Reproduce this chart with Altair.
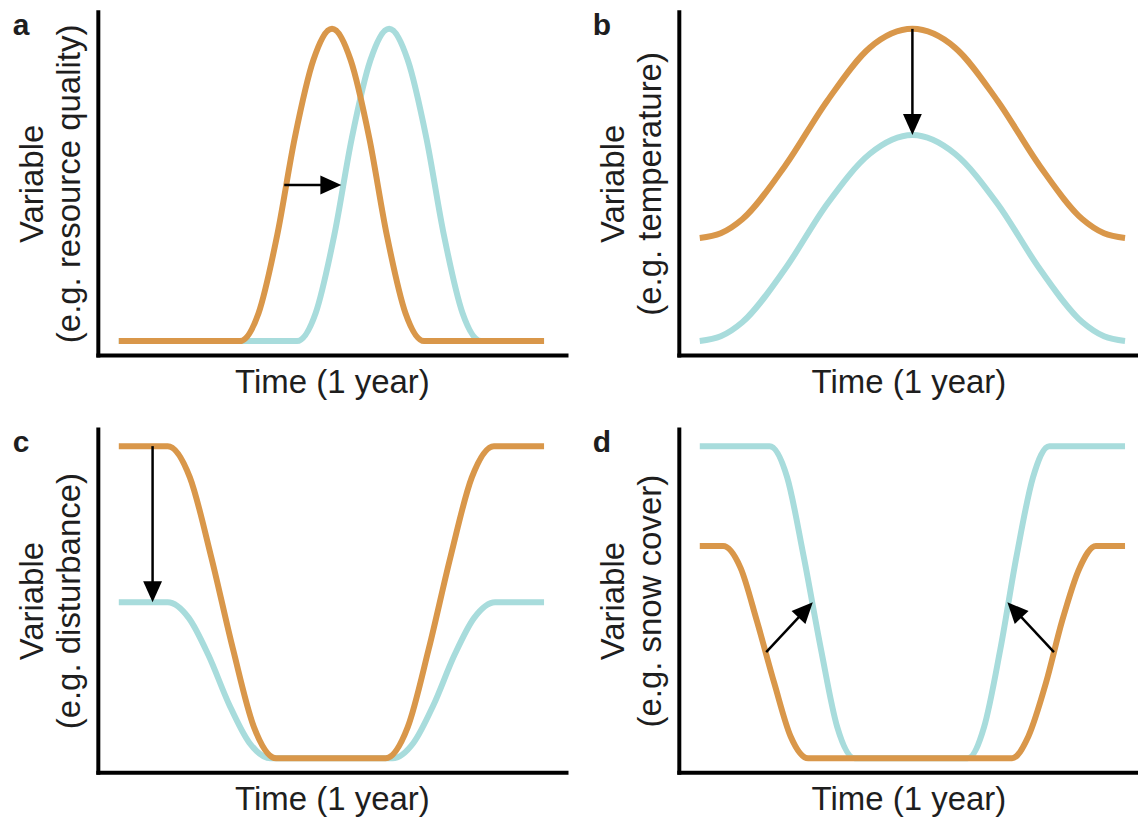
import math

import altair as alt
import pandas as pd

FONT = "Liberation Sans"
INK = "#1e1e1e"
ORANGE = "#D9974A"
TEAL = "#A8DCDC"

PANEL_H = 344
LEFT_W = 469
RIGHT_W = 460
PX_PER_DAY = 426 / 365
X_START = -18.0
Y_DOMAIN = [-0.045, 1.055]
PX_PER_UNIT = PANEL_H / (Y_DOMAIN[1] - Y_DOMAIN[0])

# ---- a: resource quality, seasonal peak arrives later ----
a_before_day = [0, 104, 120, 136, 151, 167, 183, 199, 215, 230, 246, 262, 365]
a_before_lvl = [0, 0, 0.09, 0.34, 0.65, 0.90, 1.00, 0.90, 0.65, 0.34, 0.09, 0, 0]
a_after_day = [0, 153, 169, 185, 200, 216, 232, 248, 264, 279, 295, 311, 365]
a_after_lvl = [0, 0, 0.09, 0.34, 0.65, 0.90, 1.00, 0.90, 0.65, 0.34, 0.09, 0, 0]

# ---- b: temperature, whole cycle lowered ----
b_before_day = [0, 18, 36.5, 73, 109.5, 146, 182.5, 219, 255.5, 292, 328.5, 347, 365]
b_before_lvl = [0.33, 0.345, 0.39, 0.56, 0.77, 0.94, 1.00, 0.94, 0.77, 0.56, 0.39, 0.345, 0.33]
b_after_day = [0, 18, 36.5, 73, 109.5, 146, 182.5, 219, 255.5, 292, 328.5, 347, 365]
b_after_lvl = [0.00, 0.015, 0.06, 0.23, 0.44, 0.60, 0.66, 0.60, 0.44, 0.23, 0.06, 0.015, 0.00]

# ---- c: disturbance, off-season level reduced ----
c_before_day = [0, 42, 61, 79, 98, 116, 135, 229, 248, 266, 285, 303, 322, 365]
c_before_lvl = [1, 1, 0.90, 0.65, 0.35, 0.10, 0, 0, 0.10, 0.35, 0.65, 0.90, 1, 1]
c_after_day = [0, 42, 60, 77, 95, 112, 130, 235, 253, 270, 288, 305, 323, 365]
c_after_lvl = [0.5, 0.5, 0.45, 0.33, 0.17, 0.05, 0, 0, 0.05, 0.17, 0.33, 0.45, 0.5, 0.5]

# ---- d: snow cover, deeper and longer-lasting ----
d_before_day = [0, 20, 35, 49, 64, 78, 93, 268, 282, 297, 311, 326, 340, 365]
d_before_lvl = [0.68, 0.68, 0.61, 0.44, 0.24, 0.07, 0, 0, 0.07, 0.24, 0.44, 0.61, 0.68, 0.68]
d_after_day = [0, 60, 75, 89, 104, 118, 133, 230, 244, 258, 272, 286, 300, 365]
d_after_lvl = [1, 1, 0.90, 0.65, 0.35, 0.10, 0, 0, 0.10, 0.35, 0.65, 0.90, 1, 1]

# arrows: from the original curve to the changed one
arrow_panel = ["a", "b", "c", "d", "d"]
arrow_from_day = [142, 182.5, 29, 57, 304]
arrow_from_lvl = [0.50, 1.00, 1.00, 0.34, 0.34]
arrow_to_day = [191, 182.5, 29, 97, 264]
arrow_to_lvl = [0.50, 0.66, 0.50, 0.50, 0.50]

panel_keys = ["a", "b", "c", "d"]
panel_examples = ["(e.g. resource quality)", "(e.g. temperature)",
                  "(e.g. disturbance)", "(e.g. snow cover)"]
curves = {
    "a": (a_before_day, a_before_lvl, a_after_day, a_after_lvl),
    "b": (b_before_day, b_before_lvl, b_after_day, b_after_lvl),
    "c": (c_before_day, c_before_lvl, c_after_day, c_after_lvl),
    "d": (d_before_day, d_before_lvl, d_after_day, d_after_lvl),
}

HEAD = "M0,0 L0.45,1 L-0.45,1 Z"  # tip at the anchor, pointing up
HEAD_LEN = 21
HEAD_SIZE = (2 * HEAD_LEN) ** 2


def arrow_table(key):
    rows = []
    for p, x0, y0, x1, y1 in zip(arrow_panel, arrow_from_day, arrow_from_lvl,
                                 arrow_to_day, arrow_to_lvl):
        if p != key:
            continue
        dx = (x1 - x0) * PX_PER_DAY
        dy = (y1 - y0) * PX_PER_UNIT
        length = math.hypot(dx, dy)
        ux, uy = dx / length, dy / length
        back = HEAD_LEN * 0.6
        rows.append({
            "day": x0, "level": y0,
            "day_end": x1 - ux * back / PX_PER_DAY,
            "level_end": y1 - uy * back / PX_PER_UNIT,
            "tip_day": x1, "tip_level": y1,
            "angle": math.degrees(math.atan2(dx, dy)) % 360,
        })
    return pd.DataFrame(rows)


def panel(idx, width):
    key = panel_keys[idx]
    bd, bl, ad, al = curves[key]
    x_scale = alt.Scale(domain=[X_START, X_START + width / PX_PER_DAY], nice=False, zero=False)
    y_scale = alt.Scale(domain=Y_DOMAIN, nice=False, zero=False)
    x_axis = alt.Axis(title="Time (1 year)")
    y_axis = alt.Axis(title=["Variable", panel_examples[idx]])
    x_enc = alt.X("day:Q", scale=x_scale, axis=x_axis)
    y_enc = alt.Y("level:Q", scale=y_scale, axis=y_axis)

    after = alt.Chart(pd.DataFrame({"day": ad, "level": al})).mark_line(
        interpolate="monotone", strokeWidth=6, color=TEAL, strokeCap="butt"
    ).encode(x=x_enc, y=y_enc)
    before = alt.Chart(pd.DataFrame({"day": bd, "level": bl})).mark_line(
        interpolate="monotone", strokeWidth=6, color=ORANGE, strokeCap="butt"
    ).encode(x=x_enc, y=y_enc)

    arrows = arrow_table(key)
    shaft = alt.Chart(arrows).mark_rule(color="black", strokeWidth=2.5).encode(
        x=x_enc, y=y_enc, x2="day_end:Q", y2="level_end:Q")
    head = alt.Chart(arrows).mark_point(
        shape=HEAD, filled=True, size=HEAD_SIZE, color="black", opacity=1, strokeWidth=0
    ).encode(
        x=alt.X("tip_day:Q", scale=x_scale, axis=x_axis),
        y=alt.Y("tip_level:Q", scale=y_scale, axis=y_axis),
        angle=alt.Angle("angle:Q", scale=None),
    )
    letter = alt.Chart(pd.DataFrame({"label": [key]})).mark_text(
        font=FONT, fontSize=30, fontWeight="bold", color=INK,
        align="center", baseline="alphabetic"
    ).encode(x=alt.value(-77), y=alt.value(23), text="label:N")

    return alt.layer(after, before, shaft, head, letter).properties(
        width=width, height=PANEL_H)


top = alt.hconcat(panel(0, LEFT_W), panel(1, RIGHT_W), spacing=26)
bottom = alt.hconcat(panel(2, LEFT_W), panel(3, RIGHT_W), spacing=26)

chart = alt.vconcat(top, bottom, spacing=29).properties(
    padding={"left": 12, "top": 10, "right": 0, "bottom": 0},
    background="white",
).configure_view(stroke=None).configure_axis(
    domain=True, domainColor="black", domainWidth=4, domainCap="square",
    ticks=False, labels=False, grid=False,
    titleFont=FONT, titleFontSize=33, titleFontWeight="normal", titleColor=INK,
    titlePadding=11, titleLineHeight=37,
)

chart.save("out.html", embed_options={"renderer": "svg", "actions": False})
